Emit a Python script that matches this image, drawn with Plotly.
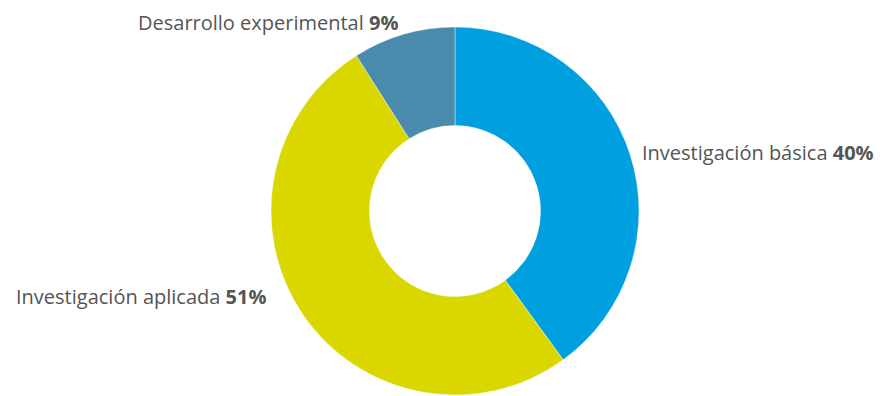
import plotly.graph_objects as go

# Distribución del gasto en I+D por tipo de investigación
categorias = ["Investigación básica", "Investigación aplicada", "Desarrollo experimental"]
porcentajes = [40, 51, 9]
colores = ["#009FE0", "#D9D600", "#4A8BAD"]

W, H = 882, 396
OFF = 8  # margen por defecto del <body> en la página
# posición de cada etiqueta (px en la página) y anclaje
etiquetas_pos = [
    (641, 152, "left"),
    (267, 296, "right"),
    (399, 22, "right"),
]

cx, cy, r = 455 - OFF, 211 - OFF, 184
fig = go.Figure()
fig.add_pie(
    labels=categorias, values=porcentajes, sort=False, direction="clockwise",
    rotation=0, hole=0.465, textinfo="none", hoverinfo="label+percent",
    marker=dict(colors=colores, line=dict(color="white", width=0.4)),
    domain=dict(x=[(cx - r) / W, (cx + r) / W],
                y=[(H - cy - r) / H, (H - cy + r) / H]),
    showlegend=False,
)

for cat, pct, (px, py, anchor) in zip(categorias, porcentajes, etiquetas_pos):
    fig.add_annotation(
        x=(px - OFF) / W, y=1 - (py - OFF) / H, xref="paper", yref="paper",
        text=f"{cat} <b>{pct}%</b>", showarrow=False,
        xanchor=anchor, yanchor="middle", borderpad=0,
        font=dict(family="Open Sans", size=20, color="#555555"),
    )

fig.update_layout(
    width=W, height=H, margin=dict(l=0, r=0, t=0, b=0),
    paper_bgcolor="white", plot_bgcolor="white",
)
fig.write_html("out.html")
